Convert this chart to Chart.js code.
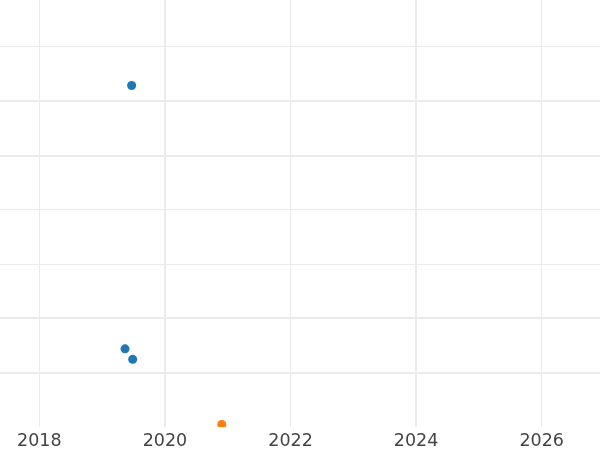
<!DOCTYPE html>
<html>
<head>
<meta charset="utf-8">
<script src="https://cdn.jsdelivr.net/npm/chart.js@4/dist/chart.umd.min.js"></script>
<style>
  html, body { margin: 0; padding: 0; background: #ffffff; }
  #wrap { width: 600px; height: 450px; }
</style>
</head>
<body>
<div id="wrap"><canvas id="c" width="600" height="450"></canvas></div>
<script>
// Data
const blueX = [2019.47, 2019.365, 2019.487];
const blueY = [6.29, 1.44, 1.246];
const orangeX = [2020.906];
const orangeY = [0.046];
const xTicks = [2018, 2020, 2022, 2024, 2026];
const yTicks = [1, 2, 3, 4, 5, 6, 7];

const toPoints = (xs, ys) => xs.map((x, i) => ({ x: x, y: ys[i] }));

const gridColor = '#ebebeb';
const thickX = new Set([2020, 2024]);
const thickY = new Set([1, 2, 5, 6]);

new Chart(document.getElementById('c'), {
  type: 'scatter',
  data: {
    datasets: [
      {
        label: 'A',
        data: toPoints(blueX, blueY),
        backgroundColor: '#1f77b4',
        borderColor: '#1f77b4',
        pointRadius: 4.5,
        borderWidth: 0
      },
      {
        label: 'B',
        data: toPoints(orangeX, orangeY),
        backgroundColor: '#ff7f0e',
        borderColor: '#ff7f0e',
        pointRadius: 4.5,
        borderWidth: 0
      }
    ]
  },
  options: {
    responsive: false,
    animation: false,
    layout: { padding: 0, autoPadding: false },
    plugins: { legend: { display: false }, tooltip: { enabled: false } },
    scales: {
      x: {
        type: 'linear',
        min: 2017.374,
        max: 2026.928,
        afterBuildTicks: (s) => { s.ticks = xTicks.map(v => ({ value: v })); },
        afterFit: (s) => { s.height = 23; },
        border: { display: false },
        grid: {
          color: gridColor,
          drawTicks: false,
          lineWidth: (ctx) => (ctx.tick && thickX.has(ctx.tick.value)) ? 2 : 1
        },
        ticks: {
          color: '#444444',
          padding: 4,
          maxRotation: 0,
          autoSkip: false,
          font: { family: 'DejaVu Sans', size: 17.5, lineHeight: 1.2 },
          callback: (v) => String(v)
        }
      },
      y: {
        type: 'linear',
        min: 0,
        max: 7.865,
        afterBuildTicks: (s) => { s.ticks = yTicks.map(v => ({ value: v })); },
        border: { display: false },
        grid: {
          color: gridColor,
          drawTicks: false,
          lineWidth: (ctx) => (ctx.tick && thickY.has(ctx.tick.value)) ? 2 : 1
        },
        ticks: { display: false }
      }
    }
  }
});
</script>
</body>
</html>
